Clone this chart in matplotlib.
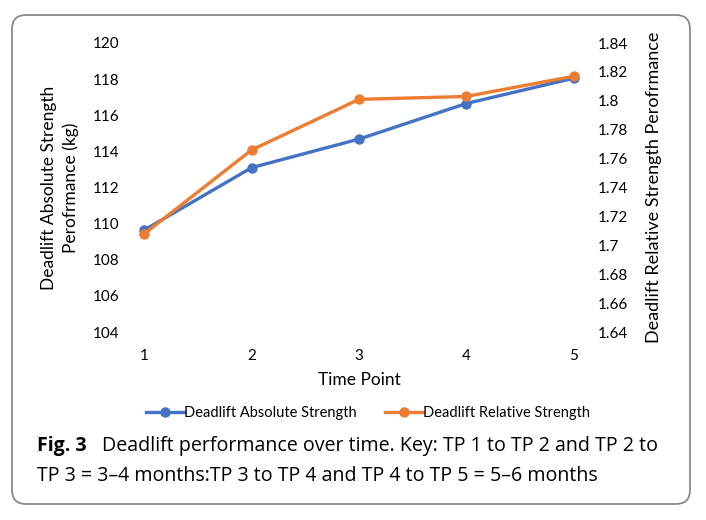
import matplotlib
matplotlib.use("Agg")
import matplotlib.pyplot as plt
from matplotlib.patches import FancyBboxPatch
from matplotlib.transforms import IdentityTransform

time_points = [1, 2, 3, 4, 5]
absolute_kg = [109.65, 113.1, 114.68, 116.65, 118.05]
relative = [1.708, 1.766, 1.801, 1.803, 1.817]

blue = "#4472C4"
orange = "#ED7D31"
tick_font = "Lato"

W, H = 706, 520
fig = plt.figure(figsize=(W / 100, H / 100), dpi=100)

# axes placed in pixel terms
left, right, top, bottom = 124, 594, 43, 332
ax = fig.add_axes([left / W, 1 - bottom / H, (right - left) / W, (bottom - top) / H])
ax2 = ax.twinx()

l1, = ax.plot(time_points, absolute_kg, color=blue, lw=2.4, marker="o", ms=6.5,
              label="Deadlift Absolute Strength", zorder=3)
l2, = ax2.plot(time_points, relative, color=orange, lw=2.4, marker="o", ms=6.5,
               label="Deadlift Relative Strength", zorder=3)

ax.set_xlim(0.81, 5.19)
ax.set_ylim(104, 120)
ax2.set_ylim(1.64, 1.84)
ax.set_xticks(time_points)
ax.set_yticks(range(104, 121, 2))
ax2.set_yticks([1.64 + 0.02 * i for i in range(11)])
ax2.set_yticklabels(["1.64", "1.66", "1.68", "1.7", "1.72", "1.74", "1.76", "1.78", "1.8", "1.82", "1.84"])

for a in (ax, ax2):
    for s in a.spines.values():
        s.set_visible(False)
    a.tick_params(length=0, labelsize=11, pad=3)
    for t in a.get_xticklabels() + a.get_yticklabels():
        t.set_fontfamily(tick_font)
ax.tick_params(axis="x", pad=12)

ax.set_xlabel("Time Point", fontfamily=tick_font, fontsize=12.5, labelpad=7)
ax.set_ylabel("Deadlift Absolute Strength\nPerofrmance (kg)", fontfamily=tick_font,
              fontsize=12.5, labelpad=10, linespacing=1.45)
ax2.set_ylabel("Deadlift Relative Strength Perofrmance", fontfamily=tick_font,
               fontsize=13, labelpad=13, rotation=90)

fig.legend(handles=[l1, l2], loc="center", bbox_to_anchor=(368 / W, 1 - 413 / H),
           ncol=2, frameon=False, prop={"family": tick_font, "size": 10.5},
           handlelength=2.6, handletextpad=0.0, columnspacing=2.0)

# rounded border around the figure
box = FancyBboxPatch((12, H - 504), 678, 489, boxstyle="round,pad=0,rounding_size=14",
                     transform=IdentityTransform(), facecolor="none",
                     edgecolor="#8a8a8a", lw=1.3)
fig.patches.append(box)

cap_font = "Open Sans"
fig.text(37 / W, 1 - 446 / H, "Fig. 3", fontfamily=cap_font, fontweight="bold",
         fontsize=14, va="center", ha="left")
fig.text(102 / W, 1 - 446 / H, "Deadlift performance over time. Key: TP 1 to TP 2 and TP 2 to",
         fontfamily=cap_font, fontsize=14.1, va="center", ha="left")
fig.text(37 / W, 1 - 476 / H, "TP 3 = 3\u20134 months:TP 3 to TP 4 and TP 4 to TP 5 = 5\u20136 months",
         fontfamily=cap_font, fontsize=14.1, va="center", ha="left")

fig.savefig("out.png", dpi=100)
